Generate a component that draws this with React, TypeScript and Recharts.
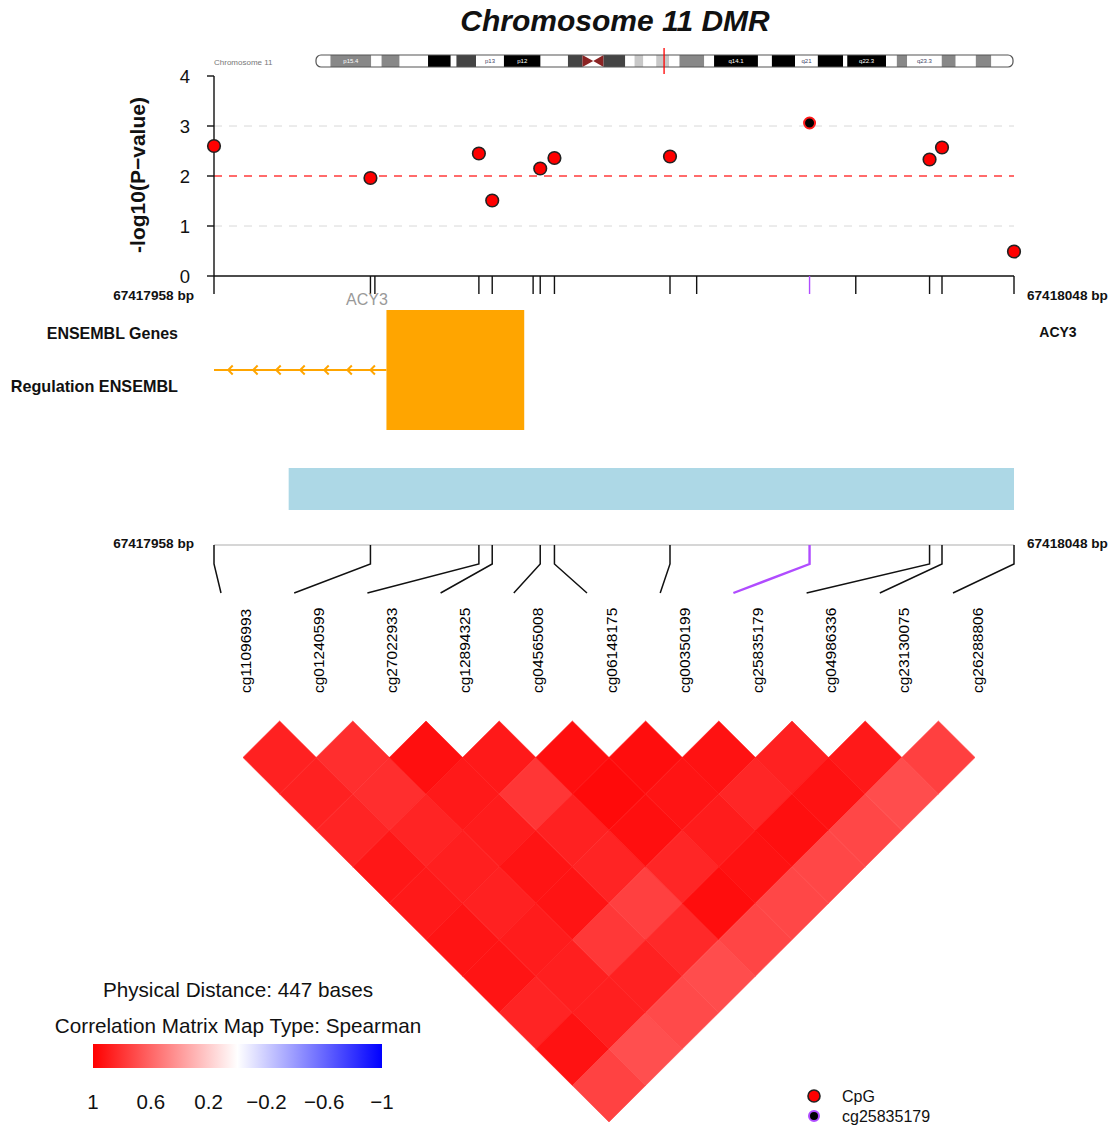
// App.tsx
// coMET style plot: chromosome 11 DMR, p-values, tracks and spearman correlation map

import {
  ScatterChart,
  Scatter,
  XAxis,
  YAxis,
  ReferenceLine,
  ReferenceArea,
} from 'recharts'

const FONT = '"Liberation Sans", Arial, Helvetica, sans-serif'

// CpG sites of the DMR
const cpgNames = [
  'cg11096993', 'cg01240599', 'cg27022933', 'cg12894325', 'cg04565008', 'cg06148175',
  'cg00350199', 'cg25835179', 'cg04986336', 'cg23130075', 'cg26288806',
]
const cpgPositions = [
  67417958, 67417975.6, 67417987.8, 67417989.3, 67417994.7, 67417996.3,
  67418009.3, 67418025.0, 67418038.5, 67418039.9, 67418048,
]
const cpgLogP = [2.6, 1.96, 2.45, 1.51, 2.15, 2.36, 2.39, 3.06, 2.33, 2.57, 0.49]
const highlightCpg = 'cg25835179'
const featureTicks = [67417976.1, 67417993.9, 67418012.3, 67418030.2]
const regionStart = 67417958
const regionEnd = 67418048
const logPTicks = [0, 1, 2, 3, 4]

// tracks
const geneExon = [67417977.4, 67417992.9]
const strandArrows = [67417959.6, 67417962.4, 67417965.0, 67417967.7, 67417970.4, 67417973.0, 67417975.6]
const regulationBlock = [67417966.4, 67418048]

// spearman correlation, upper triangle, row i = cpg i against cpg i+1 ... 10
const corrRows = [
  [0.87, 0.87, 0.86, 0.91, 0.9, 0.92, 0.92, 0.86, 0.93, 0.74],
  [0.82, 0.82, 0.86, 0.88, 0.87, 0.89, 0.88, 0.88, 0.69],
  [0.94, 0.9, 0.89, 0.92, 0.92, 0.78, 0.87, 0.71],
  [0.9, 0.79, 0.87, 0.86, 0.75, 0.84, 0.7],
  [0.94, 0.96, 0.94, 0.85, 0.95, 0.73],
  [0.95, 0.92, 0.89, 0.93, 0.72],
  [0.93, 0.85, 0.94, 0.72],
  [0.87, 0.93, 0.72],
  [0.9, 0.7],
  [0.75],
]
const colorTicks = [1, 0.6, 0.2, -0.2, -0.6, -1]

// chromosome 11 ideogram (Mb)
const chrLength = 135.0
const bandStarts = [
  0, 2.8, 10.7, 12.7, 16.2, 21.7, 26.1, 27.2, 31.0, 36.4, 43.5, 48.8, 51.6, 53.7, 55.7, 59.9, 61.7, 63.4,
  65.9, 68.4, 70.4, 75.2, 77.1, 85.6, 88.3, 92.8, 97.2, 102.1, 102.9, 110.4, 112.5, 114.5, 121.2, 123.9, 127.8, 130.8,
]
const bandNames = [
  'p15.5', 'p15.4', 'p15.3', 'p15.2', 'p15.1', 'p14.3', 'p14.2', 'p14.1', 'p13', 'p12', 'p11.2', 'p11.12', 'p11.11', 'q11', 'q12.1', 'q12.2', 'q12.3', 'q13.1',
  'q13.2', 'q13.3', 'q13.4', 'q13.5', 'q14.1', 'q14.2', 'q14.3', 'q21', 'q22.1', 'q22.2', 'q22.3', 'q23.1', 'q23.2', 'q23.3', 'q24.1', 'q24.2', 'q24.3', 'q25',
]
const bandStains = [
  'gneg', 'gpos50', 'gneg', 'gpos50', 'gneg', 'gpos100', 'gneg', 'gpos75', 'gneg', 'gpos100', 'gneg', 'gpos75', 'acen', 'acen', 'gpos75', 'gneg', 'gpos25', 'gneg',
  'gpos25', 'gneg', 'gpos50', 'gneg', 'gpos100', 'gneg', 'gpos100', 'gneg', 'gpos100', 'gneg', 'gpos100', 'gneg', 'gpos50', 'gneg', 'gpos50', 'gneg', 'gpos50', 'gneg',
]
const shownBands = ['p15.4', 'p13', 'p12', 'q14.1', 'q21', 'q22.3', 'q23.3']
const dmrMb = 67.418

const stainColor: Record<string, string> = {
  gneg: '#ffffff',
  gpos25: '#c8c8c8',
  gpos50: '#888888',
  gpos75: '#444444',
  gpos100: '#000000',
  acen: '#8b2323',
}

// layout
const W = 1110
const HEAT_LEFT = 243
const HEAT_RIGHT = 975
const HEAT_TOP = 721
const HEAT_BOTTOM = 1122
const CELL_W = (HEAT_RIGHT - HEAT_LEFT) / (cpgNames.length - 1)
const HALF_W = CELL_W / 2
const HALF_H = (HEAT_BOTTOM - HEAT_TOP) / cpgNames.length
const PURPLE = '#b04cff'

const highlightPos = cpgPositions[cpgNames.indexOf(highlightCpg)]
const labelX = (i: number) => HEAT_LEFT + i * CELL_W

function corrColor(r: number) {
  if (r >= 0) {
    const g = Math.round(255 * (1 - r))
    return `rgb(255,${g},${g})`
  }
  const g = Math.round(255 * (1 + r))
  return `rgb(${g},${g},255)`
}

const pointData = cpgNames.map((name, i) => ({ name, pos: cpgPositions[i], logp: cpgLogP[i] }))
const connectorData = cpgNames.map((name, i) => ({ name, idx: i, pos: cpgPositions[i], y: 1 }))
const cellData = corrRows.flatMap((row, i) =>
  row.map((r, k) => {
    const j = i + k + 1
    return { x: (i + j) / 2, y: j - i, r }
  })
)
const tickPositions = [...cpgPositions, ...featureTicks].sort((a, b) => a - b)
const bands = bandStarts.map((s, i) => ({
  start: s,
  end: i + 1 < bandStarts.length ? bandStarts[i + 1] : chrLength,
  name: bandNames[i],
  stain: bandStains[i],
}))
const bandLabelData = bands
  .filter((b) => shownBands.includes(b.name))
  .map((b) => ({ x: (b.start + b.end) / 2, y: 13, name: b.name, stain: b.stain }))
const colorKeyData = colorTicks.map((v) => ({ x: v, y: 0.5 }))

const PointShape = (props: any) => {
  const { cx, cy, payload } = props
  if (payload.name === highlightCpg) {
    return <circle cx={cx} cy={cy} r={5.5} fill="#000" stroke="#ff1a1a" strokeWidth={2} />
  }
  return <circle cx={cx} cy={cy} r={6.3} fill="#ff0000" stroke="#222" strokeWidth={1.6} />
}

const GenomeTick = (props: any) => {
  const { x, y, payload } = props
  const hl = Math.abs(payload.value - highlightPos) < 1e-6
  return <line x1={x} x2={x} y1={y} y2={y + 18} stroke={hl ? PURPLE : '#111'} strokeWidth={1.4} />
}

const ChevronShape = (props: any) => {
  const { cx, cy } = props
  return <path d={`M${cx + 4.5},${cy - 4.5} L${cx},${cy} L${cx + 4.5},${cy + 4.5}`} stroke="#ffa500" strokeWidth={2} fill="none" />
}

const ConnectorShape = (props: any) => {
  const { cx, cy, payload } = props
  const hl = payload.name === highlightCpg
  const ex = labelX(payload.idx) - 22
  return (
    <polyline
      points={`${cx},${cy} ${cx},${cy + 19} ${ex},${cy + 48}`}
      fill="none"
      stroke={hl ? PURPLE : '#111'}
      strokeWidth={hl ? 2.4 : 1.5}
    />
  )
}

const CellShape = (props: any) => {
  const { cx, cy, payload } = props
  const c = corrColor(payload.r)
  return (
    <polygon
      points={`${cx},${cy - HALF_H} ${cx + HALF_W},${cy} ${cx},${cy + HALF_H} ${cx - HALF_W},${cy}`}
      fill={c}
      stroke={c}
      strokeWidth={0.6}
    />
  )
}

const BandLabel = (props: any) => {
  const { cx, cy, payload } = props
  return (
    <text x={cx} y={cy} textAnchor="middle" dominantBaseline="central" fontSize={6} fontFamily={FONT}
      fill={payload.stain === 'gneg' ? '#446' : '#fff'}>
      {payload.name}
    </text>
  )
}

const Nothing = () => <g />

const CpgLabelTick = (props: any) => {
  const { x, y, payload } = props
  return (
    <text
      transform={`translate(${x + 2},${y - 28}) rotate(-90)`}
      textAnchor="start"
      dominantBaseline="central"
      fontSize={15.5}
      fill="#000"
      fontFamily={FONT}
    >
      {cpgNames[payload.value]}
    </text>
  )
}

const bandShape = (stain: string, left: boolean) => (props: any) => {
  const { x, y, width, height } = props
  const fill = stainColor[stain]
  if (stain === 'acen') {
    const pts = left
      ? `${x},${y} ${x + width},${y + height / 2} ${x},${y + height}`
      : `${x + width},${y} ${x},${y + height / 2} ${x + width},${y + height}`
    return <polygon points={pts} fill={fill} />
  }
  return <rect x={x} y={y} width={width} height={height} fill={fill} />
}

const outlineShape = (props: any) => {
  const { x, y, width, height } = props
  return <rect x={x} y={y} width={width} height={height} rx={5} ry={5} fill="none" stroke="#555" strokeWidth={1.2} />
}

const abs = (top: number) => ({ position: 'absolute' as const, left: 0, top })

export default function App() {
  return (
    <div style={{ position: 'absolute', left: 0, top: 0, width: W, height: 1126, background: '#fff', fontFamily: FONT }}>
      {/* ideogram */}
      <div style={abs(48)}>
        <ScatterChart width={W} height={26} margin={{ top: 0, right: 97, bottom: 0, left: 316 }}>
          <XAxis type="number" dataKey="x" domain={[0, chrLength]} hide />
          <YAxis type="number" dataKey="y" domain={[0, 26]} reversed hide />
          {bands.map((b, i) => (
            <ReferenceArea
              key={b.name}
              x1={b.start}
              x2={b.end}
              y1={7}
              y2={19}
              fillOpacity={1}
              shape={bandShape(b.stain, i > 0 && bands[i - 1].stain !== 'acen')}
            />
          ))}
          <ReferenceArea x1={0} x2={chrLength} y1={7} y2={19} shape={outlineShape} />
          <ReferenceLine x={dmrMb} stroke="#ff0000" strokeWidth={1.3} />
          <Scatter data={bandLabelData} shape={<BandLabel />} isAnimationActive={false} />
        </ScatterChart>
      </div>

      {/* p-values */}
      <div style={abs(66)}>
        <ScatterChart width={W} height={230} margin={{ top: 10, right: 96, bottom: 0, left: 0 }}>
          <XAxis
            type="number"
            dataKey="pos"
            domain={[regionStart, regionEnd]}
            ticks={tickPositions}
            interval={0}
            tickSize={0}
            tickMargin={0}
            tickLine={false}
            tick={<GenomeTick />}
            axisLine={{ stroke: '#111', strokeWidth: 1.4 }}
            height={20}
          />
          <YAxis
            type="number"
            dataKey="logp"
            domain={[0, 4]}
            ticks={logPTicks}
            width={214}
            tickSize={7}
            tickMargin={17}
            tick={{ fontSize: 18.5, fill: '#111', fontFamily: FONT }}
            axisLine={{ stroke: '#111', strokeWidth: 1.4 }}
            tickLine={{ stroke: '#111', strokeWidth: 1.4 }}
          />
          <ReferenceLine y={1} stroke="#d8d8d8" strokeDasharray="8 7" />
          <ReferenceLine y={3} stroke="#d8d8d8" strokeDasharray="8 7" />
          <ReferenceLine y={2} stroke="#ff3b3b" strokeWidth={1.6} strokeDasharray="8 7" />
          <Scatter data={pointData} shape={<PointShape />} isAnimationActive={false} />
        </ScatterChart>
      </div>

      {/* gene and regulation tracks */}
      <div style={abs(300)}>
        <ScatterChart width={W} height={220} margin={{ top: 0, right: 96, bottom: 0, left: 214 }}>
          <XAxis type="number" dataKey="x" domain={[regionStart, regionEnd]} hide />
          <YAxis type="number" dataKey="y" domain={[0, 220]} reversed hide />
          <ReferenceLine
            segment={[
              { x: regionStart, y: 70 },
              { x: geneExon[0], y: 70 },
            ]}
            stroke="#ffa500"
            strokeWidth={2}
          />
          <ReferenceArea x1={geneExon[0]} x2={geneExon[1]} y1={10} y2={130} fill="#ffa500" fillOpacity={1} />
          <ReferenceArea x1={regulationBlock[0]} x2={regulationBlock[1]} y1={168} y2={210} fill="#add8e6" fillOpacity={1} />
          <Scatter
            data={strandArrows.map((x) => ({ x, y: 70 }))}
            shape={<ChevronShape />}
            isAnimationActive={false}
          />
        </ScatterChart>
      </div>

      {/* lower genomic axis and connectors */}
      <div style={abs(535)}>
        <ScatterChart width={W} height={60} margin={{ top: 10, right: 96, bottom: 0, left: 214 }}>
          <XAxis type="number" dataKey="pos" domain={[regionStart, regionEnd]} hide />
          <YAxis type="number" dataKey="y" domain={[0, 1]} hide />
          <ReferenceLine y={1} stroke="#c8c8c8" strokeWidth={1.5} />
          <Scatter data={connectorData} shape={<ConnectorShape />} isAnimationActive={false} />
        </ScatterChart>
      </div>

      {/* correlation map */}
      <div style={abs(595)}>
        <ScatterChart width={W} height={531} margin={{ top: 0, right: W - HEAT_RIGHT, bottom: 4, left: HEAT_LEFT }}>
          <XAxis
            type="number"
            dataKey="x"
            orientation="top"
            domain={[0, cpgNames.length - 1]}
            ticks={cpgNames.map((_, i) => i)}
            interval={0}
            height={126}
            axisLine={false}
            tickLine={false}
            tickSize={0}
            tickMargin={0}
            tick={<CpgLabelTick />}
          />
          <YAxis type="number" dataKey="y" domain={[0, cpgNames.length]} reversed hide />
          <Scatter data={cellData} shape={<CellShape />} isAnimationActive={false} />
        </ScatterChart>
      </div>

      {/* colour key */}
      <div style={abs(1044)}>
        <ScatterChart width={W} height={80} margin={{ top: 0, right: W - 382, bottom: 0, left: 93 }}>
          <defs>
            <linearGradient id="corrGrad" x1="0" y1="0" x2="1" y2="0">
              <stop offset="0%" stopColor="#ff0000" />
              <stop offset="50%" stopColor="#ffffff" />
              <stop offset="100%" stopColor="#0000ff" />
            </linearGradient>
          </defs>
          <XAxis
            type="number"
            dataKey="x"
            domain={[-1, 1]}
            reversed
            ticks={colorTicks}
            interval={0}
            height={56}
            axisLine={false}
            tickLine={false}
            tickSize={0}
            tickMargin={26}
            tick={{ fontSize: 20.5, fill: '#111', fontFamily: FONT }}
            tickFormatter={(v: number) => (v < 0 ? '\u2212' + Math.abs(v) : String(v))}
          />
          <YAxis type="number" dataKey="y" domain={[0, 1]} hide />
          <ReferenceArea x1={-1} x2={1} y1={0} y2={1} fill="url(#corrGrad)" fillOpacity={1} />
          <Scatter data={colorKeyData} shape={<Nothing />} isAnimationActive={false} />
        </ScatterChart>
      </div>

      {/* free text */}
      <svg width={W} height={1126} style={{ position: 'absolute', left: 0, top: 0, pointerEvents: 'none' }} fontFamily={FONT}>
        <text x={615} y={31} textAnchor="middle" fontSize={30} fontWeight="bold" fontStyle="italic" fill="#111">
          Chromosome 11 DMR
        </text>
        <text x={214} y={65} fontSize={8} fill="#777">Chromosome 11</text>
        <text transform="translate(145,175) rotate(-90)" textAnchor="middle" fontSize={21} fontWeight="bold" fill="#111">
          -log10(P{'\u2212'}value)
        </text>
        <text x={194} y={300} textAnchor="end" fontSize={13.6} fontWeight="bold" fill="#111">67417958 bp</text>
        <text x={1027} y={300} fontSize={13.6} fontWeight="bold" fill="#111">67418048 bp</text>
        <text x={367} y={305} textAnchor="middle" fontSize={16} fill="#999">ACY3</text>
        <text x={178} y={339} textAnchor="end" fontSize={16} fontWeight="bold" fill="#111">ENSEMBL Genes</text>
        <text x={178} y={392} textAnchor="end" fontSize={16.2} fontWeight="bold" fill="#111">Regulation ENSEMBL</text>
        <text x={1058} y={337} textAnchor="middle" fontSize={14} fontWeight="bold" fill="#111">ACY3</text>
        <text x={194} y={548} textAnchor="end" fontSize={13.6} fontWeight="bold" fill="#111">67417958 bp</text>
        <text x={1027} y={548} fontSize={13.6} fontWeight="bold" fill="#111">67418048 bp</text>
        <text x={238} y={997} textAnchor="middle" fontSize={20.7} fill="#111">Physical Distance: 447 bases</text>
        <text x={238} y={1033} textAnchor="middle" fontSize={20.7} fill="#111">Correlation Matrix Map Type: Spearman</text>
        <circle cx={814} cy={1096} r={6} fill="#ff0000" stroke="#222" strokeWidth={1.6} />
        <circle cx={814} cy={1116} r={5} fill="#000" stroke={PURPLE} strokeWidth={2} />
        <text x={842} y={1102} fontSize={16} fill="#111">CpG</text>
        <text x={842} y={1122} fontSize={16} fill="#111">cg25835179</text>
      </svg>
    </div>
  )
}
